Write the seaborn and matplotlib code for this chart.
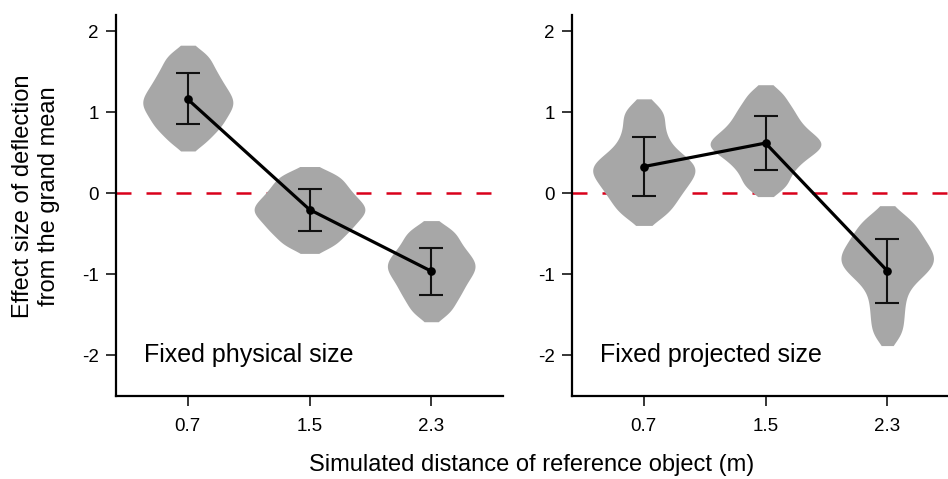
import matplotlib
matplotlib.use("Agg")
import matplotlib.pyplot as plt
import numpy as np
import seaborn as sns

# Simulated distances (categories on the x axis)
distances = ["0.7", "1.5", "2.3"]
panel_titles = ["Fixed physical size", "Fixed projected size"]
yticks = [-2, -1, 0, 1, 2]

# Effect-size samples per condition (violins)
physical_07 = [0.62, 0.74, 0.82, 0.888, 0.957, 1.018, 1.073, 1.125,
               1.177, 1.234, 1.296, 1.363, 1.439, 1.52, 1.62, 1.73]
physical_15 = [-0.66, -0.57, -0.49, -0.431, -0.37, -0.316, -0.267, -0.222,
               -0.178, -0.133, -0.084, -0.03, 0.031, 0.095, 0.17, 0.25]
physical_23 = [-1.49, -1.38, -1.285, -1.21, -1.137, -1.071, -1.012, -0.956,
               -0.907, -0.857, -0.805, -0.747, -0.682, -0.607, -0.52, -0.43]
projected_07 = [-0.28, -0.17, -0.07, 0.011, 0.087, 0.154, 0.216, 0.273,
                0.324, 0.38, 0.44, 0.52, 0.63, 0.76, 0.91, 1.05]
projected_15 = [0.06, 0.18, 0.295, 0.38, 0.455, 0.515, 0.565, 0.605,
                0.65, 0.70, 0.76, 0.83, 0.91, 1.00, 1.10, 1.24]
projected_23 = [-1.75, -1.57, -1.40, -1.24, -1.10, -1.01, -0.94, -0.88,
                -0.823, -0.767, -0.706, -0.64, -0.565, -0.48, -0.39, -0.28]

# Mean effect sizes with interval bounds
physical_means = [1.16, -0.20, -0.96]
physical_lo = [0.86, -0.46, -1.25]
physical_hi = [1.48, 0.05, -0.67]
projected_means = [0.33, 0.62, -0.955]
projected_lo = [-0.03, 0.29, -1.35]
projected_hi = [0.70, 0.95, -0.56]

VIOLIN_GREY = "#a7a7a7"
ZERO_RED = "#d9001b"

sns.set_style("ticks")
plt.rcParams["font.family"] = ["Liberation Sans", "DejaVu Sans"]
for key in ("text.color", "axes.labelcolor", "xtick.color", "ytick.color"):
    plt.rcParams[key] = "black"

W, H = 948, 479
fig = plt.figure(figsize=(W / 100, H / 100), dpi=100)
ax_l = fig.add_axes([116 / W, 1 - 396 / H, 387 / W, 381 / H])
ax_r = fig.add_axes([572 / W, 1 - 396 / H, 387 / W, 381 / H])


def draw_panel(ax, samples, widths, means, lo, hi, title):
    ax.axhline(0, color=ZERO_RED, lw=1.8, ls=(0, (6, 6)), zorder=0.5)
    for cat, vals, w in zip(distances, samples, widths):
        sns.violinplot(x=[cat] * len(vals), y=vals, order=distances,
                       width=w, color=VIOLIN_GREY, saturation=1,
                       inner=None, cut=1, linewidth=0, bw_adjust=0.53,
                       density_norm="width", ax=ax)
    pos = np.arange(len(distances))
    m = np.asarray(means)
    ax.errorbar(pos, m, yerr=[m - np.asarray(lo), np.asarray(hi) - m],
                fmt="none", ecolor="#111111", elinewidth=1.5,
                capsize=8.5, capthick=1.5, zorder=3)
    sns.pointplot(x=distances, y=means, order=distances, color="black",
                  markersize=4.5, linewidth=2.3, errorbar=None, ax=ax,
                  zorder=4)
    ax.set_xlim(-0.59, 2.59)
    ax.set_ylim(-2.5, 2.2)
    ax.set_yticks(yticks)
    ax.set_yticklabels([str(t) for t in yticks])
    ax.set_xlabel("")
    ax.set_ylabel("")
    ax.tick_params(axis="both", length=7.5, width=1.1, colors="black",
                   labelsize=13.5)
    ax.tick_params(axis="y", pad=5)
    ax.tick_params(axis="x", pad=8)
    sns.despine(ax=ax)
    for side in ("left", "bottom"):
        ax.spines[side].set_linewidth(1.6)
        ax.spines[side].set_color("black")
    ax.text(-0.36, -2.0, title, fontsize=18, va="center", ha="left")


draw_panel(ax_l, [physical_07, physical_15, physical_23], [0.74, 0.91, 0.72],
           physical_means, physical_lo, physical_hi, panel_titles[0])
draw_panel(ax_r, [projected_07, projected_15, projected_23], [0.84, 0.91, 0.76],
           projected_means, projected_lo, projected_hi, panel_titles[1])

ax_l.set_ylabel("Effect size of deflection\nfrom the grand mean",
                fontsize=17, linespacing=1.25)
ax_l.yaxis.set_label_coords(-0.145, 0.525)

fig.text(532 / W, 1 - 465 / H, "Simulated distance of reference object (m)",
         fontsize=17, ha="center", va="center")

fig.savefig("out.png", dpi=100)
